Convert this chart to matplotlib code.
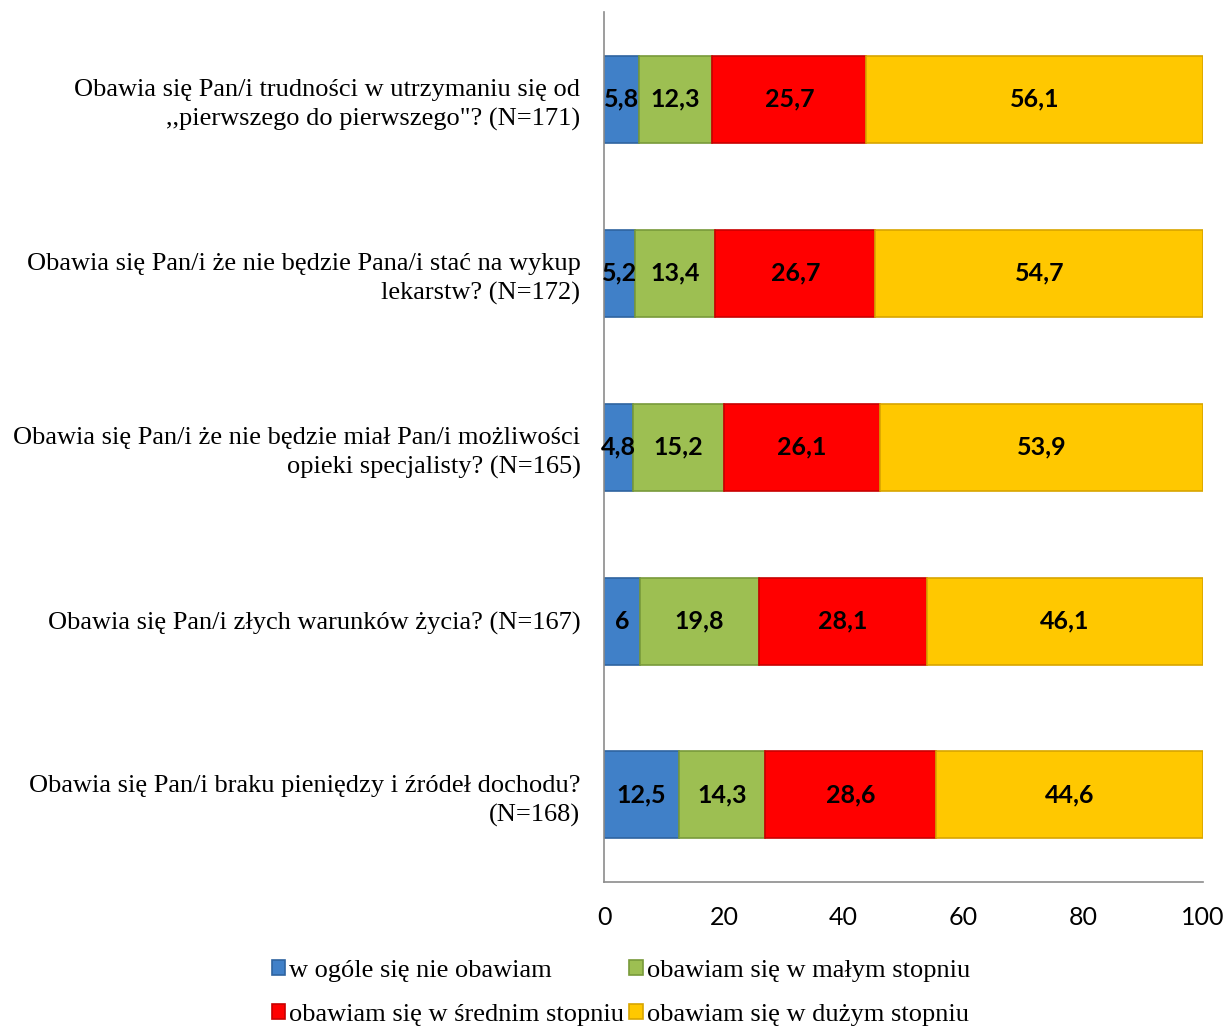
import numpy as np
import matplotlib
matplotlib.use('Agg')
import matplotlib.pyplot as plt

questions = [
    'Obawia się Pan/i trudności w utrzymaniu się od\n,,pierwszego do pierwszego"? (N=171)',
    'Obawia się Pan/i że nie będzie Pana/i stać na wykup\nlekarstw? (N=172)',
    'Obawia się Pan/i że nie będzie miał Pan/i możliwości\nopieki specjalisty? (N=165)',
    'Obawia się Pan/i złych warunków życia? (N=167)',
    'Obawia się Pan/i braku pieniędzy i źródeł dochodu?\n(N=168)',
]
series_names = [
    'w ogóle się nie obawiam',
    'obawiam się w małym stopniu',
    'obawiam się w średnim stopniu',
    'obawiam się w dużym stopniu',
]
nie_obawiam = [5.8, 5.2, 4.8, 6.0, 12.5]
malym = [12.3, 13.4, 15.2, 19.8, 14.3]
srednim = [25.7, 26.7, 26.1, 28.1, 28.6]
duzym = [56.1, 54.7, 53.9, 46.1, 44.6]
x_ticks = [0, 20, 40, 60, 80, 100]

colors = ['#4080C8', '#9DBF52', '#FF0000', '#FFC800']
edges = ['#2F64A0', '#789A3A', '#C80000', '#D8A500']

fig = plt.figure(figsize=(12.27, 10.30), dpi=100)
ax = fig.add_axes([0.4923, 0.1437, 0.4883, 0.8446])

y = np.arange(len(questions))
left = np.zeros(len(questions))
handles = []
for vals, name, col, ec in zip([nie_obawiam, malym, srednim, duzym], series_names, colors, edges):
    vals = np.array(vals)
    bars = ax.barh(y, vals, left=left, height=0.5, color=col, edgecolor=ec,
                   linewidth=1.2, label=name, zorder=2)
    handles.append(bars)
    for yi, l, v in zip(y, left, vals):
        txt = ('%g' % v).replace('.', ',')
        ax.text(l + v / 2, yi, txt, ha='center', va='center', fontsize=18,
                fontweight='bold', family='Lato', color='black', zorder=3)
    left = left + vals

ax.set_ylim(len(questions) - 0.5, -0.5)
ax.set_xlim(0, 100)
ax.set_xticks(x_ticks)
ax.set_xticklabels([str(t) for t in x_ticks], fontsize=18, family='Lato')
ax.tick_params(axis='x', length=0, pad=17)
ax.set_yticks(y)
ax.set_yticklabels(questions, fontsize=19, family='Liberation Serif', linespacing=1.4)
ax.tick_params(axis='y', length=0, pad=17)
for lab in ax.get_yticklabels():
    lab.set_horizontalalignment('right')
    lab.set_multialignment('right')
for side in ['top', 'right']:
    ax.spines[side].set_visible(False)
for side in ['left', 'bottom']:
    ax.spines[side].set_color('#8C8C8C')
    ax.spines[side].set_linewidth(1.2)

order = [0, 2, 1, 3]
leg = fig.legend([handles[i] for i in order], [series_names[i] for i in order],
                 loc='center', bbox_to_anchor=(0.506, 0.036), ncol=2, frameon=False,
                 prop={'family': 'Liberation Serif', 'size': 19},
                 handlelength=0.5, handleheight=0.5, handletextpad=0.15,
                 columnspacing=0.2, labelspacing=0.85, borderpad=0.1)

fig.savefig('out.png', dpi=100)
